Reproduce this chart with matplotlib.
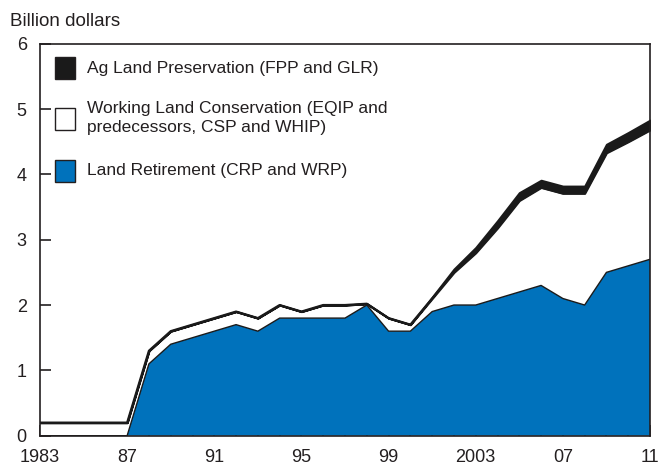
import matplotlib
matplotlib.use("Agg")
import matplotlib.pyplot as plt
from matplotlib.patches import Rectangle
import numpy as np

plt.rcParams['font.family'] = ['Liberation Sans', 'DejaVu Sans']

years = list(range(1983, 2012))
land_retirement = [0, 0, 0, 0, 0, 1.1, 1.4, 1.5, 1.6, 1.7, 1.6, 1.8, 1.8, 1.8, 1.8,
                   2.0, 1.6, 1.6, 1.9, 2.0, 2.0, 2.1, 2.2, 2.3, 2.1, 2.0, 2.5, 2.6, 2.7]
working_land = [0.2, 0.2, 0.2, 0.2, 0.2, 0.2, 0.2, 0.2, 0.2, 0.2, 0.2, 0.2, 0.1, 0.2, 0.2,
                0.02, 0.2, 0.1, 0.2, 0.5, 0.8, 1.08, 1.4, 1.5, 1.61, 1.71, 1.83, 1.9, 1.98]
ag_preservation = [0, 0, 0, 0, 0, 0, 0, 0, 0, 0, 0, 0, 0, 0, 0,
                   0, 0, 0, 0.02, 0.05, 0.08, 0.11, 0.12, 0.11, 0.11, 0.11, 0.13, 0.14, 0.15]
tick_labels = {1983: "1983", 1987: "87", 1991: "91", 1995: "95", 1999: "99",
               2003: "2003", 2007: "07", 2011: "11"}

legend_labels = ["Ag Land Preservation (FPP and GLR)",
                 "Working Land Conservation (EQIP and\npredecessors, CSP and WHIP)",
                 "Land Retirement (CRP and WRP)"]

BLUE = "#0072bc"
INK = "#231f20"

W, H = 659, 465
fig = plt.figure(figsize=(W / 100, H / 100), dpi=100)
ax = fig.add_axes([40 / W, 1 - 435.7 / H, 610 / W, 392 / H])

x = np.array(years)
b = np.array(land_retirement)
w = b + np.array(working_land)
t = w + np.array(ag_preservation)

ax.fill_between(x, 0, b, facecolor=BLUE, edgecolor="none", zorder=2)
ax.plot(x, b, color="#1a1a1a", lw=1.0, zorder=3)
ax.fill_between(x, b, w, facecolor="white", edgecolor="none", zorder=2)
ax.fill_between(x, w, t, facecolor="#1a1a1a", edgecolor="#1a1a1a", lw=1.5, zorder=3)
ax.plot(x, w, color="#1a1a1a", lw=1.6, zorder=3)

ax.set_xlim(1983, 2011)
ax.set_ylim(0, 6)
ax.set_xticks(years)
ax.set_xticklabels([tick_labels.get(y, "") for y in years])
ax.set_yticks(range(0, 7))
ax.tick_params(direction="in", length=8, width=1.2, color=INK, labelsize=13,
               labelcolor=INK)
ax.tick_params(axis="x", pad=9.5)
ax.tick_params(axis="y", pad=9.5)
for s in ax.spines.values():
    s.set_color(INK)
    s.set_linewidth(1.2)
    s.set_zorder(5)

fig.text(10 / W, 1 - 21 / H, "Billion dollars", fontsize=13.5, color=INK,
         ha="left", va="center")

# legend
colors = ["#1a1a1a", "white", BLUE]
patch_y = [57, 108, 160]
text_y = [68, 118, 171]
for c, py, ty, lab in zip(colors, patch_y, text_y, legend_labels):
    fig.patches.append(Rectangle((55 / W, 1 - (py + 22) / H), 20 / W, 22 / H,
                                 transform=fig.transFigure, facecolor=c,
                                 edgecolor=INK, lw=1.0))
    fig.text(87 / W, 1 - ty / H, lab, fontsize=12.5, color=INK, ha="left",
             va="center", linespacing=1.3)

fig.savefig("out.png", dpi=100)
